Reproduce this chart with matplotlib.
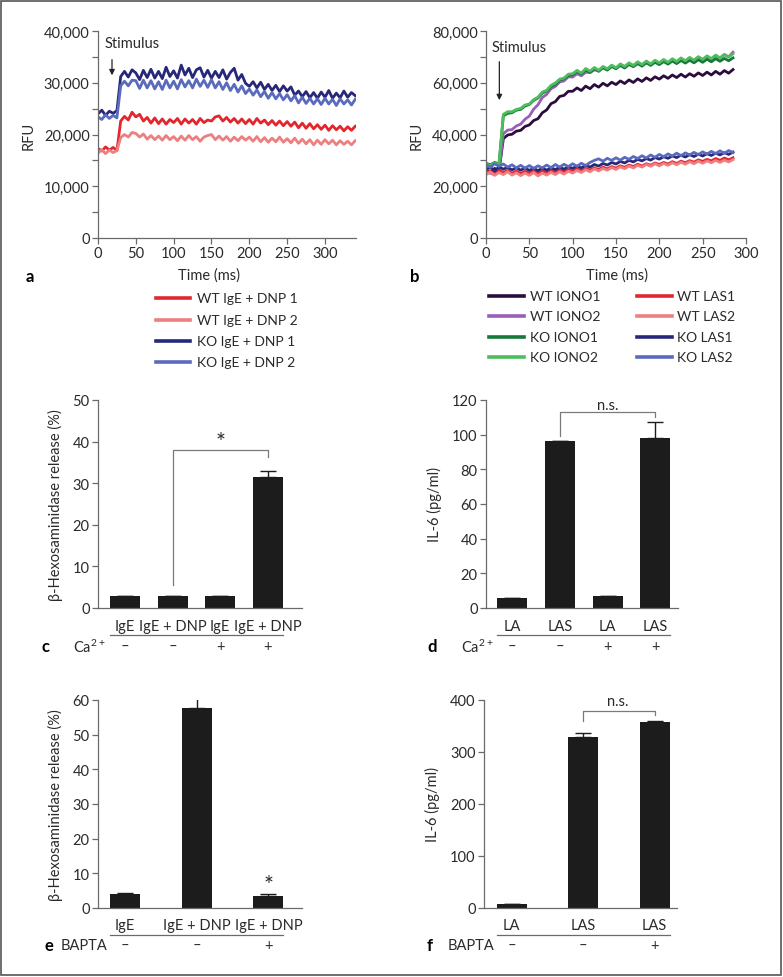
import numpy as np
import matplotlib
matplotlib.use('Agg')
from matplotlib import pyplot as plt
from matplotlib import transforms
from matplotlib.lines import Line2D
from matplotlib.patches import Rectangle

plt.rcParams['font.family'] = ['Lato', 'DejaVu Sans']
plt.rcParams['mathtext.fontset'] = 'custom'
plt.rcParams['mathtext.rm'] = 'Lato'
plt.rcParams['mathtext.default'] = 'rm'

# ---------------------------------------------------------------
# data (RFU in thousands)
# ---------------------------------------------------------------

# panel a: sampled every 5 ms, 0..340 ms
t_a = np.arange(0, 345, 5)
wt_dnp1 = [17.3, 16.8, 17.6, 17.0, 17.5, 16.9, 22.6, 23.5, 22.8, 24.3,
           23.4, 23.9, 22.6, 23.3, 22.2, 23.2, 22.1, 23.0, 22.0, 22.9,
           22.3, 23.1, 22.0, 23.0, 22.2, 22.9, 22.0, 23.1, 22.3, 22.8,
           22.6, 23.4, 23.6, 22.6, 23.3, 22.4, 23.1, 22.2, 23.0, 22.1,
           22.9, 22.0, 23.1, 22.2, 22.8, 21.9, 22.7, 21.8, 22.6, 21.7,
           22.5, 21.6, 22.4, 21.3, 22.2, 21.2, 22.1, 21.1, 21.9, 21.0,
           21.8, 20.8, 21.7, 20.9, 21.6, 20.7, 21.5, 20.8, 21.6]
wt_dnp2 = [16.4, 17.1, 16.3, 17.0, 16.5, 16.9, 19.4, 20.0, 19.5, 20.4,
           20.2, 19.5, 20.1, 19.1, 19.8, 19.0, 19.7, 18.9, 19.8, 19.0,
           19.6, 18.8, 19.7, 18.9, 19.8, 19.0, 19.6, 18.7, 19.5, 19.8,
           20.0, 19.0, 19.7, 18.9, 19.6, 18.7, 19.5, 18.8, 19.6, 18.9,
           19.5, 18.7, 19.6, 18.6, 19.4, 18.5, 19.3, 18.6, 19.5, 18.5,
           19.2, 18.4, 19.3, 18.3, 19.1, 18.2, 19.0, 18.0, 18.9, 18.1,
           19.0, 18.2, 18.9, 18.0, 18.8, 18.1, 18.7, 18.0, 18.8]
ko_dnp1 = [24.0, 24.7, 23.7, 24.5, 24.1, 24.6, 31.2, 32.2, 31.1, 32.5,
           31.9, 30.6, 32.4, 31.0, 32.6, 30.9, 32.2, 30.8, 33.0, 31.2,
           32.3, 30.9, 33.4, 31.5, 32.8, 31.0, 32.5, 32.9, 31.1, 32.4,
           30.9, 32.2, 31.0, 32.5, 30.7, 32.0, 32.8, 30.5, 31.6, 29.9,
           29.3, 30.2, 29.0, 30.1, 28.7, 29.7, 28.5, 29.5, 28.3, 29.4,
           28.4, 29.2, 27.6, 28.4, 27.3, 28.3, 27.1, 28.1, 27.0, 28.2,
           27.2, 28.5, 27.0, 28.0, 27.1, 28.4, 27.2, 28.1, 27.5]
ko_dnp2 = [23.4, 22.9, 23.8, 23.1, 23.7, 23.2, 29.4, 30.3, 29.4, 30.5,
           30.4, 28.9, 30.5, 29.0, 30.4, 28.8, 30.2, 28.7, 30.5, 29.0,
           30.3, 28.8, 30.6, 29.2, 30.4, 29.0, 30.7, 29.3, 30.5, 29.1,
           30.6, 29.0, 30.2, 28.7, 30.0, 28.5, 29.7, 28.2, 29.4, 27.9,
           28.8, 27.6, 28.6, 27.3, 28.3, 27.0, 28.1, 26.9, 27.9, 26.7,
           27.7, 26.5, 27.5, 26.1, 27.2, 26.0, 27.0, 25.9, 26.9, 25.8,
           27.0, 25.9, 26.8, 25.6, 26.9, 25.9, 26.7, 25.7, 26.8]

labels_a = ['WT IgE + DNP 1', 'WT IgE + DNP 2', 'KO IgE + DNP 1', 'KO IgE + DNP 2']

# panel b: sampled every 5 ms, 0..285 ms
t_b = np.arange(0, 290, 5)
wt_iono1 = [26.2, 25.3, 26.9, 25.8, 38.4, 39.8, 40.1, 41.3, 41.6, 43.1,
            43.7, 45.4, 46.1, 48.4, 49.5, 51.9, 52.7, 54.7, 55.1, 56.7,
            56.7, 58.0, 57.0, 58.7, 57.7, 59.3, 58.3, 59.8, 58.8, 60.2,
            59.3, 60.7, 59.7, 61.1, 60.1, 61.5, 60.5, 61.9, 60.9, 62.3,
            61.4, 62.7, 61.7, 63.0, 62.0, 63.3, 62.2, 63.5, 62.5, 63.8,
            62.8, 64.1, 63.0, 64.4, 63.3, 64.7, 63.7, 65.1]
wt_iono2 = [26.0, 25.0, 24.5, 25.9, 40.3, 41.7, 41.9, 43.3, 44.0, 45.9,
            47.1, 49.8, 51.5, 54.3, 55.5, 57.7, 58.6, 60.3, 60.7, 62.3,
            62.2, 63.5, 62.7, 64.1, 63.9, 65.0, 64.7, 65.9, 65.0, 66.4,
            65.7, 66.9, 66.0, 67.3, 66.5, 67.6, 66.8, 68.0, 67.1, 68.3,
            67.5, 68.6, 67.7, 68.9, 68.0, 69.2, 68.3, 69.5, 68.6, 69.8,
            68.9, 70.1, 69.2, 70.5, 69.5, 70.9, 70.0, 71.8]
ko_iono1 = [28.9, 28.3, 29.2, 28.6, 47.2, 48.2, 48.4, 49.4, 49.7, 51.0,
            51.6, 53.2, 54.1, 56.0, 56.8, 58.5, 59.4, 61.0, 61.5, 62.8,
            63.1, 64.4, 63.4, 64.9, 64.0, 65.4, 64.4, 65.8, 64.9, 66.3,
            65.4, 66.7, 65.7, 67.1, 66.2, 67.4, 66.4, 67.7, 66.7, 67.9,
            67.0, 68.2, 67.2, 68.4, 67.4, 68.6, 67.6, 68.7, 67.7, 68.9,
            67.9, 69.1, 68.1, 69.3, 68.3, 69.4, 68.5, 69.6]
ko_iono2 = [28.6, 28.0, 29.0, 28.3, 47.8, 48.8, 48.8, 49.7, 50.1, 51.4,
            51.8, 53.5, 54.4, 56.4, 57.1, 59.0, 59.9, 61.4, 61.8, 63.3,
            63.5, 64.8, 63.7, 65.5, 64.5, 65.9, 64.8, 66.3, 65.4, 66.8,
            65.8, 67.3, 66.3, 67.7, 66.7, 68.1, 67.0, 68.4, 67.3, 68.7,
            67.7, 69.0, 67.9, 69.3, 68.2, 69.6, 68.5, 69.8, 68.7, 70.1,
            69.0, 70.4, 69.3, 70.7, 69.6, 70.9, 69.9, 71.2]
wt_las1 = [25.0, 26.0, 25.1, 26.2, 25.3, 26.1, 25.0, 25.9, 24.9, 25.8,
           25.0, 25.9, 25.1, 26.0, 25.2, 26.2, 25.4, 26.3, 25.6, 26.5,
           25.8, 26.7, 26.0, 26.9, 26.2, 27.1, 26.4, 27.4, 26.7, 27.6,
           27.0, 27.9, 27.3, 28.2, 27.6, 28.5, 27.8, 28.7, 28.1, 29.0,
           28.4, 29.2, 28.6, 29.5, 28.8, 29.7, 29.1, 29.9, 29.3, 30.2,
           29.6, 30.4, 29.8, 30.7, 30.0, 30.9, 30.2, 31.0]
wt_las2 = [24.5, 25.5, 24.2, 25.3, 24.5, 25.6, 24.3, 25.2, 24.1, 25.1,
           24.2, 25.3, 24.0, 25.1, 24.3, 25.4, 24.5, 25.6, 24.7, 25.8,
           25.1, 26.1, 25.3, 26.4, 25.6, 26.7, 25.9, 26.9, 26.2, 27.2,
           26.5, 27.5, 26.8, 27.8, 27.1, 28.1, 27.4, 28.4, 27.7, 28.7,
           27.9, 28.8, 28.1, 29.1, 28.3, 29.3, 28.5, 29.5, 28.7, 29.7,
           28.9, 29.8, 29.1, 30.0, 29.2, 30.1, 29.4, 30.3]
ko_las1 = [26.4, 27.4, 25.9, 27.5, 26.6, 27.3, 26.3, 27.2, 26.2, 27.1,
           26.1, 27.0, 26.0, 27.1, 26.2, 27.2, 26.4, 27.4, 26.6, 27.6,
           26.9, 27.8, 27.1, 28.1, 27.4, 28.4, 27.8, 28.8, 28.2, 29.2,
           28.6, 29.6, 29.0, 30.0, 29.4, 30.4, 29.8, 30.7, 30.1, 31.1,
           30.5, 31.4, 30.8, 31.7, 31.1, 32.0, 31.3, 32.2, 31.5, 32.4,
           31.7, 32.6, 31.9, 32.8, 32.1, 33.0, 32.3, 33.2]
ko_las2 = [28.3, 27.3, 28.7, 27.7, 28.6, 27.4, 28.3, 27.1, 28.1, 27.0,
           28.0, 26.9, 27.9, 27.1, 28.2, 27.2, 28.4, 27.4, 28.5, 27.6,
           28.7, 27.7, 28.9, 28.0, 29.2, 30.0, 30.6, 29.7, 30.8, 30.0,
           31.0, 30.1, 31.2, 30.4, 31.5, 30.7, 31.8, 30.9, 32.1, 31.2,
           32.3, 31.4, 32.5, 31.7, 32.8, 31.8, 32.9, 32.1, 33.1, 32.2,
           33.3, 32.4, 33.5, 32.6, 33.7, 32.7, 33.8, 33.0]

labels_b = ['WT IONO1', 'WT IONO2', 'KO IONO1', 'KO IONO2',
            'WT LAS1', 'WT LAS2', 'KO LAS1', 'KO LAS2']

# panel c: beta-hexosaminidase release (%)
cats_c = ['IgE', 'IgE + DNP', 'IgE', 'IgE + DNP']
ca_c = ['–', '–', '+', '+']
hex_c = [2.8, 2.8, 2.9, 31.4]
hex_c_err = [0.2, 0.2, 0.1, 1.5]

# panel d: IL-6 (pg/ml)
cats_d = ['LA', 'LAS', 'LA', 'LAS']
ca_d = ['–', '–', '+', '+']
il6_d = [5.7, 96.3, 6.8, 97.9]
il6_d_err = [0.3, 0.3, 0.4, 9.2]

# panel e
cats_e = ['IgE', 'IgE + DNP', 'IgE + DNP']
bapta_e = ['–', '–', '+']
hex_e = [4.0, 57.8, 3.6]
hex_e_err = [0.4, 2.9, 0.4]

# panel f
cats_f = ['LA', 'LAS', 'LAS']
bapta_f = ['–', '–', '+']
il6_f = [7.7, 329.5, 357.7]
il6_f_err = [0.5, 7.5, 2.0]

# ---------------------------------------------------------------
RED = '#e2262e'
SALMON = '#ee7f80'
NAVY = '#27287a'
PERI = '#5a6bbd'
DPURPLE = '#2b0d3d'
LPURPLE = '#9a5eb8'
DGREEN = '#17783a'
LGREEN = '#4dbd5d'
AXC = '#6a6a6a'
TXT = '#2a2a2a'
FS = 10.5

W, H = 783, 978
fig = plt.figure(figsize=(W / 100, H / 100), dpi=100)


def add_ax(left, top, right, bottom):
    # positions in pixels of the picture
    return fig.add_axes([left / W, 1 - bottom / H, (right - left) / W, (bottom - top) / H])


def fy(py):
    return 1 - py / H


def style(ax):
    for s in ['top', 'right']:
        ax.spines[s].set_visible(False)
    for s in ['left', 'bottom']:
        ax.spines[s].set_color(AXC)
        ax.spines[s].set_linewidth(0.9)
    ax.tick_params(which='both', direction='out', length=4, width=0.9,
                   color=AXC, labelcolor=TXT, labelsize=FS, pad=2)


def thousands(ax):
    ax.yaxis.set_major_formatter(matplotlib.ticker.FuncFormatter(lambda v, p: f'{int(v):,}'))


def legend_rows(lines, labels, x0, x1, xt, ys):
    for ln, lab, y in zip(lines, labels, ys):
        fig.add_artist(Line2D([x0 / W, x1 / W], [fy(y), fy(y)], color=ln.get_color(), lw=2.6))
        fig.text(xt / W, fy(y), lab, va='center', ha='left', fontsize=10, color=TXT)


# ---------------- panel a ----------------
ax = add_ax(98, 32, 356, 239)
style(ax)
la = []
for y, c in zip([wt_dnp1, wt_dnp2, ko_dnp1, ko_dnp2], [RED, SALMON, NAVY, PERI]):
    la += ax.plot(t_a, np.array(y) * 1000, color=c, lw=2.0)
ax.set_xlim(0, 341)
ax.set_ylim(0, 40000)
ax.set_xticks(np.arange(0, 301, 50))
ax.set_yticks(np.arange(0, 40001, 10000))
ax.set_yticks(np.arange(5000, 40000, 10000), minor=True)
thousands(ax)
ax.set_ylabel('RFU', fontsize=FS, color=TXT, labelpad=6)
ax.text(9, 37700, 'Stimulus', fontsize=FS, color=TXT, va='center')
ax.annotate('', xy=(18.5, 30900), xytext=(18.5, 35000),
            arrowprops=dict(arrowstyle='-|>', color='#222222', lw=0.9, mutation_scale=8))
fig.text(209 / W, fy(276), 'Time (ms)', ha='center', va='center', fontsize=FS, color=TXT)
fig.text(30 / W, fy(277), 'a', ha='center', va='center', fontsize=12, fontweight='bold')
legend_rows(la, labels_a, 156, 190, 197, [299, 321, 342, 363])

# ---------------- panel b ----------------
ax = add_ax(486, 32, 746, 239)
style(ax)
lb = []
series_b = [wt_iono1, wt_iono2, ko_iono1, ko_iono2, wt_las1, wt_las2, ko_las1, ko_las2]
cols_b = [DPURPLE, LPURPLE, DGREEN, LGREEN, RED, SALMON, NAVY, PERI]
for y, c in zip(series_b, cols_b):
    lb += ax.plot(t_b, np.array(y) * 1000, color=c, lw=2.0)
ax.set_xlim(0, 300)
ax.set_ylim(0, 80000)
ax.set_xticks(np.arange(0, 301, 50))
ax.set_yticks(np.arange(0, 80001, 20000))
ax.set_yticks(np.arange(10000, 80000, 20000), minor=True)
thousands(ax)
ax.set_ylabel('RFU', fontsize=FS, color=TXT, labelpad=6)
ax.text(6.5, 73900, 'Stimulus', fontsize=FS, color=TXT, va='center')
ax.annotate('', xy=(15.4, 52200), xytext=(15.4, 69200),
            arrowprops=dict(arrowstyle='-|>', color='#222222', lw=0.9, mutation_scale=8))
fig.text(617 / W, fy(276), 'Time (ms)', ha='center', va='center', fontsize=FS, color=TXT)
fig.text(415 / W, fy(277), 'b', ha='center', va='center', fontsize=12, fontweight='bold')
legend_rows(lb[:4], labels_b[:4], 489, 524, 530, [297, 317, 338, 358])
legend_rows(lb[4:], labels_b[4:], 637, 672, 677, [297, 317, 338, 358])


# ---------------- bar panels ----------------
def bar_panel(box, centers_px, vals, errs, cats, signs, ymax, ystep, ylabel,
              letter, letter_x, cond, cond_x, cat_y, line_y, sign_y):
    left, top, right, bottom = box
    sp = centers_px[1] - centers_px[0]
    ax = add_ax(left, top, right, bottom)
    style(ax)
    x = np.arange(len(vals))
    ax.bar(x, vals, width=30 / sp, color='#1c1c1c', zorder=2)
    ax.errorbar(x, vals, yerr=[np.zeros(len(errs)), errs], fmt='none', ecolor='#1c1c1c',
                elinewidth=1.0, capsize=5.5, capthick=1.0, zorder=3)
    ax.set_xlim((left - centers_px[0]) / sp, (right - centers_px[0]) / sp)
    ax.set_ylim(0, ymax)
    ax.set_yticks(np.arange(0, ymax + 1, ystep))
    ax.set_xticks([])
    ax.set_ylabel(ylabel, fontsize=FS, color=TXT, labelpad=7)
    tr = transforms.blended_transform_factory(ax.transData, fig.transFigure)
    for xi, c, s in zip(x, cats, signs):
        ax.text(xi, fy(cat_y), c, transform=tr, ha='center', va='center', fontsize=FS, color=TXT)
        ax.text(xi, fy(sign_y), s, transform=tr, ha='center', va='center', fontsize=FS, color=TXT)
    hw = 15 / sp
    ax.plot([x[0] - hw, x[-1] + hw], [fy(line_y), fy(line_y)], transform=tr,
            color=AXC, lw=0.9, clip_on=False)
    fig.text(letter_x / W, fy(sign_y), letter, ha='center', va='center', fontsize=12, fontweight='bold')
    fig.text(cond_x / W, fy(sign_y), cond, ha='left', va='center', fontsize=FS, color=TXT)
    return ax


def bracket(ax, x0, x1, y0, ytop, y1):
    ax.plot([x0, x0, x1, x1], [y0, ytop, ytop, y1], color='#7a7a7a', lw=0.9, clip_on=False)


ax = bar_panel((98, 401, 302, 609), [125, 172.6, 220.2, 267.8], hex_c, hex_c_err, cats_c, ca_c,
               50, 10, 'β-Hexosaminidase release (%)', 'c', 46, r'Ca$^{2+}$', 73, 627, 636, 647)
bracket(ax, 1, 3, 5.6, 38.0, 36.4)
ax.text(2, 40.0, '*', ha='center', va='center', fontsize=17, color=TXT)

ax = bar_panel((486, 401, 678, 609), [512, 559.8, 607.6, 655.4], il6_d, il6_d_err, cats_d, ca_d,
               120, 20, 'IL-6 (pg/ml)', 'd', 432, r'Ca$^{2+}$', 461, 627, 636, 647)
bracket(ax, 1, 3, 99.4, 112.9, 110.0)
ax.text(2, 117, 'n.s.', ha='center', va='center', fontsize=FS, color=TXT)

ax = bar_panel((98, 701, 302, 909), [125, 196.7, 268.4], hex_e, hex_e_err, cats_e, bapta_e,
               60, 10, 'β-Hexosaminidase release (%)', 'e', 49, 'BAPTA', 61, 926, 935.5, 946)
ax.text(2, 6.8, '*', ha='center', va='center', fontsize=17, color=TXT)

ax = bar_panel((484, 701, 677, 909), [511.5, 583, 654.5], il6_f, il6_f_err, cats_f, bapta_f,
               400, 100, 'IL-6 (pg/ml)', 'f', 430, 'BAPTA', 448, 926, 935.5, 946)
bracket(ax, 1, 2, 359, 378.8, 372)
ax.text(1.49, 397.5, 'n.s.', ha='center', va='center', fontsize=FS, color=TXT)

# thin frame round the whole figure
fig.add_artist(Rectangle((0.0015, 0.002), 0.9955, 0.9955, transform=fig.transFigure,
                         fill=False, edgecolor='#555555', lw=1.2))

fig.savefig('out.png', dpi=100)
